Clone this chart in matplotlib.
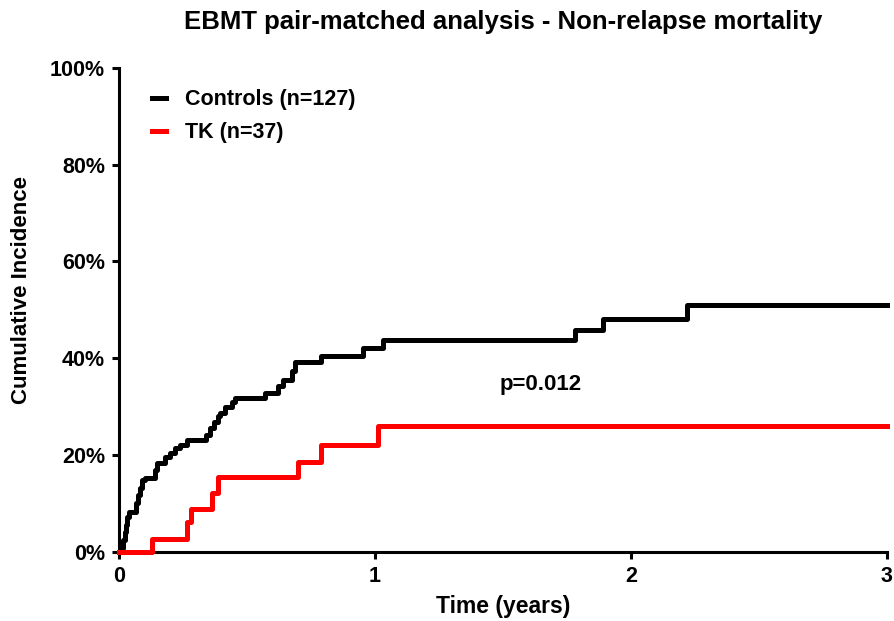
import matplotlib
matplotlib.use("Agg")
import matplotlib.pyplot as plt
import numpy as np

plt.rcParams['font.family'] = ['Liberation Sans', 'DejaVu Sans']
plt.rcParams['font.weight'] = 'bold'

# Controls (n=127): step times (years) and cumulative incidence (%)
ctrl_t = [0, 0.008, 0.015, 0.022, 0.028, 0.033, 0.04, 0.065, 0.075, 0.082, 0.088,
          0.10, 0.14, 0.147, 0.18, 0.20, 0.22, 0.24, 0.264, 0.34, 0.355, 0.37,
          0.385, 0.395, 0.414, 0.44, 0.453, 0.57, 0.62, 0.64, 0.675, 0.687,
          0.79, 0.955, 1.03, 1.78, 1.89, 2.22, 3.0]
ctrl_v = [0, 0.8, 2.5, 4.0, 5.5, 7.2, 8.3, 10.0, 11.7, 13.2, 14.8,
          15.3, 16.8, 18.4, 19.5, 20.5, 21.5, 22.1, 23.1, 24.2, 25.5, 26.9,
          28.0, 28.7, 30.0, 31.0, 31.8, 32.9, 34.3, 35.5, 37.3, 39.3,
          40.4, 42.2, 43.7, 45.9, 48.2, 51.0, 51.0]

# TK (n=37)
tk_t = [0, 0.13, 0.267, 0.281, 0.362, 0.388, 0.70, 0.79, 1.013, 3.0]
tk_v = [0, 2.7, 6.2, 8.8, 12.1, 15.5, 18.6, 22.1, 25.9, 25.9]

x_ticks = [0, 1, 2, 3]
y_ticks = [0, 20, 40, 60, 80, 100]

fig = plt.figure(figsize=(8.95, 6.21), dpi=100)
ax = fig.add_axes([0.133, 0.1116, 0.858, 0.779])

ax.step(ctrl_t, ctrl_v, where='post', color='black', lw=3.6,
        label='Controls (n=127)', clip_on=False, zorder=3)
ax.step(tk_t, tk_v, where='post', color='#ff0000', lw=3.6,
        label='TK (n=37)', clip_on=False, zorder=4)

ax.set_xlim(0, 3)
ax.set_ylim(0, 100)
ax.set_xticks(x_ticks)
ax.set_yticks(y_ticks)
ax.set_yticklabels([f'{v}%' for v in y_ticks])

for s in ['top', 'right']:
    ax.spines[s].set_visible(False)
for s in ['left', 'bottom']:
    ax.spines[s].set_linewidth(2.2)
ax.tick_params(axis='both', width=2.2, length=5, labelsize=15.5, pad=5)
for lab in ax.get_xticklabels() + ax.get_yticklabels():
    lab.set_fontweight('bold')

fig.text(503 / 895, 1 - 606 / 621, 'Time (years)', fontsize=16.5,
         fontweight='bold', ha='center', va='center')
fig.text(22 / 895, 1 - 290 / 621, 'Cumulative Incidence', fontsize=16,
         fontweight='bold', ha='center', va='center', rotation=90)
fig.text(503 / 895, 1 - 22 / 621,
         'EBMT pair-matched analysis - Non-relapse mortality',
         fontsize=18.5, fontweight='bold', ha='center', va='center')

ax.text(1.648, 34.5, 'p=0.012', fontsize=16, fontweight='bold',
        ha='center', va='center')

leg = ax.legend(loc='upper left', bbox_to_anchor=(0.018, 0.996), frameon=False,
                fontsize=15.5, handlelength=0.65, handletextpad=0.85,
                labelspacing=0.55)
for txt in leg.get_texts():
    txt.set_fontweight('bold')

fig.savefig('out.png', dpi=100)
